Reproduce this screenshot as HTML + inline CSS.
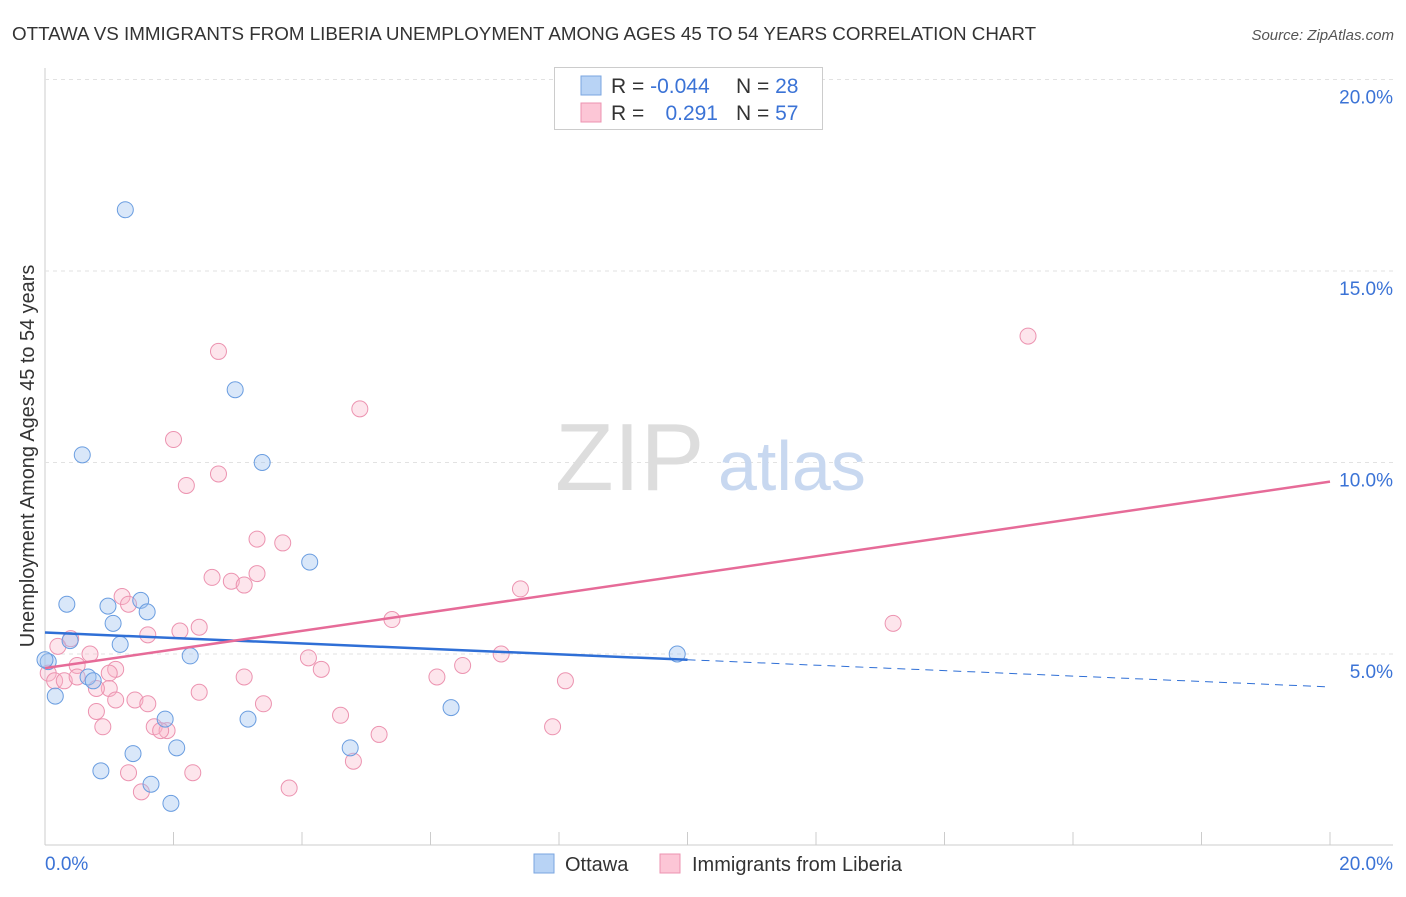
<!DOCTYPE html>
<html><head><meta charset="utf-8"><style>
body{margin:0;background:#fff;font-family:"Liberation Sans",sans-serif;}
svg text{font-family:"Liberation Sans",sans-serif;}
</style></head><body>
<svg width="1406" height="892" xmlns="http://www.w3.org/2000/svg">
<text x="12" y="40" font-size="18.8" fill="#333">OTTAWA VS IMMIGRANTS FROM LIBERIA UNEMPLOYMENT AMONG AGES 45 TO 54 YEARS CORRELATION CHART</text>
<text x="1394" y="40" font-size="15" fill="#555" font-style="italic" text-anchor="end">Source: ZipAtlas.com</text>
<g id="grid"></g>
<text x="555" y="490" font-size="96" fill="#ddd" font-family="Liberation Serif">ZIP</text>
<text x="718" y="490" font-size="70" fill="#c8d8f0">atlas</text>
<g id="pts"></g>
<g id="lines"></g>
<text transform="translate(34,456) rotate(-90)" font-size="19.9" fill="#333" text-anchor="middle">Unemployment Among Ages 45 to 54 years</text>
<text x="45" y="870" font-size="19" fill="#3b73d6">0.0%</text>
<text x="1393" y="870" font-size="19" fill="#3b73d6" text-anchor="end">20.0%</text>
<g>
<rect x="554.5" y="67.5" width="268" height="62" fill="#fff" stroke="#ccc"/>
<rect x="581" y="76" width="20" height="19" fill="#b8d3f5" stroke="#7aa6e0"/>
<rect x="581" y="103" width="20" height="19" fill="#fcc6d6" stroke="#ec93b0"/>
<text x="611" y="93" font-size="21" fill="#333">R = <tspan fill="#3b73d6">-0.044</tspan></text>
<text x="736" y="93" font-size="21" fill="#333">N = <tspan fill="#3b73d6">28</tspan></text>
<text x="611" y="120" font-size="21" fill="#333">R = </text>
<text x="718" y="120" font-size="21" fill="#3b73d6" text-anchor="end">0.291</text>
<text x="736" y="120" font-size="21" fill="#333">N = <tspan fill="#3b73d6">57</tspan></text>
</g>
<g>
<rect x="534" y="854" width="20" height="19" fill="#b8d3f5" stroke="#7aa6e0"/>
<text x="565" y="871" font-size="20" fill="#333">Ottawa</text>
<rect x="660" y="854" width="20" height="19" fill="#fcc6d6" stroke="#ec93b0"/>
<text x="692" y="871" font-size="20" fill="#333">Immigrants from Liberia</text>
</g>
</svg>
<script>
const yTicks=[5,10,15,20];
const yTickLabels=["5.0%","10.0%","15.0%","20.0%"];
const ottawaX=[1.25,2.96,0.58,3.38,4.12,0.34,0.98,1.49,1.59,1.06,0.39,1.17,2.26,0.05,0.67,0.75,0.16,1.87,3.16,6.32,1.37,2.05,4.75,0.87,1.65,1.96,9.84,0.0];
const ottawaY=[16.6,11.9,10.2,10.0,7.4,6.3,6.25,6.4,6.1,5.8,5.35,5.25,4.95,4.8,4.4,4.3,3.9,3.3,3.3,3.6,2.4,2.55,2.55,1.95,1.6,1.1,5.0,4.85];
const liberiaX=[15.3,2.7,4.9,2.0,2.7,2.2,3.3,3.7,2.6,3.3,2.9,3.1,7.4,1.2,1.3,5.4,13.2,2.4,2.1,1.6,0.4,0.2,0.7,4.1,7.1,6.5,4.3,1.1,0.5,1.0,0.05,0.15,0.3,6.1,3.1,8.1,1.0,2.4,1.4,3.4,1.6,0.8,4.6,0.9,7.9,1.7,1.9,5.2,1.8,4.8,2.3,1.3,1.5,3.8,0.8,1.1,0.5];
const liberiaY=[13.3,12.9,11.4,10.6,9.7,9.4,8.0,7.9,7.0,7.1,6.9,6.8,6.7,6.5,6.3,5.9,5.8,5.7,5.6,5.5,5.4,5.2,5.0,4.9,5.0,4.7,4.6,4.6,4.7,4.5,4.5,4.3,4.3,4.4,4.4,4.3,4.1,4.0,3.8,3.7,3.7,3.5,3.4,3.1,3.1,3.1,3.0,2.9,3.0,2.2,1.9,1.9,1.4,1.5,4.1,3.8,4.4];
const ottawaTrend=[5.56,4.14];
const liberiaTrend=[4.63,9.5];
const NS="http://www.w3.org/2000/svg";
const X=v=>45+v/20*1285, Y=v=>845.5-v/20*766;
function mk(t,a,p){const e=document.createElementNS(NS,t);for(const k in a)e.setAttribute(k,a[k]);p.appendChild(e);return e;}
const g=document.getElementById('grid');
mk('line',{x1:45,y1:68,x2:45,y2:845,stroke:'#ccc'},g);
mk('line',{x1:45,y1:845,x2:1393,y2:845,stroke:'#ccc'},g);
for(let i=0;i<=10;i++){const t=mk('line',{x1:X(i*2),x2:X(i*2),y1:845,y2:832,stroke:'#ccc'},g);

}
yTicks.forEach((v,i)=>{const l=mk('line',{x1:45,x2:1393,y1:Y(v),y2:Y(v),stroke:'#e2e2e2','stroke-dasharray':'4,4'},g);


const t=mk('text',{x:1393,y:Y(v)+24,'font-size':19,fill:'#3b73d6','text-anchor':'end'},g);t.textContent=yTickLabels[i];

});
const p=document.getElementById('pts');
liberiaX.forEach((x,i)=>{const c=mk('circle',{cx:X(x),cy:Y(liberiaY[i]),r:8,fill:'rgba(248,180,200,0.35)',stroke:'#ec93b0','stroke-width':1},p);

});
ottawaX.forEach((x,i)=>{const c=mk('circle',{cx:X(x),cy:Y(ottawaY[i]),r:8,fill:'rgba(160,195,240,0.4)',stroke:'#6a9de0','stroke-width':1},p);

});
const L=document.getElementById('lines');
const oAt=v=>ottawaTrend[0]+(ottawaTrend[1]-ottawaTrend[0])*v/20;
let a=mk('line',{x1:X(0),y1:Y(oAt(0)),x2:X(10),y2:Y(oAt(10)),stroke:'#2f6fd6','stroke-width':2.5},L);


a=mk('line',{x1:X(10),y1:Y(oAt(10)),x2:X(20),y2:Y(oAt(20)),stroke:'#2f6fd6','stroke-width':1,'stroke-dasharray':'8,6'},L);


a=mk('line',{x1:X(0),y1:Y(liberiaTrend[0]),x2:X(20),y2:Y(liberiaTrend[1]),stroke:'#e66b98','stroke-width':2.5},L);


</script>
</body></html>
